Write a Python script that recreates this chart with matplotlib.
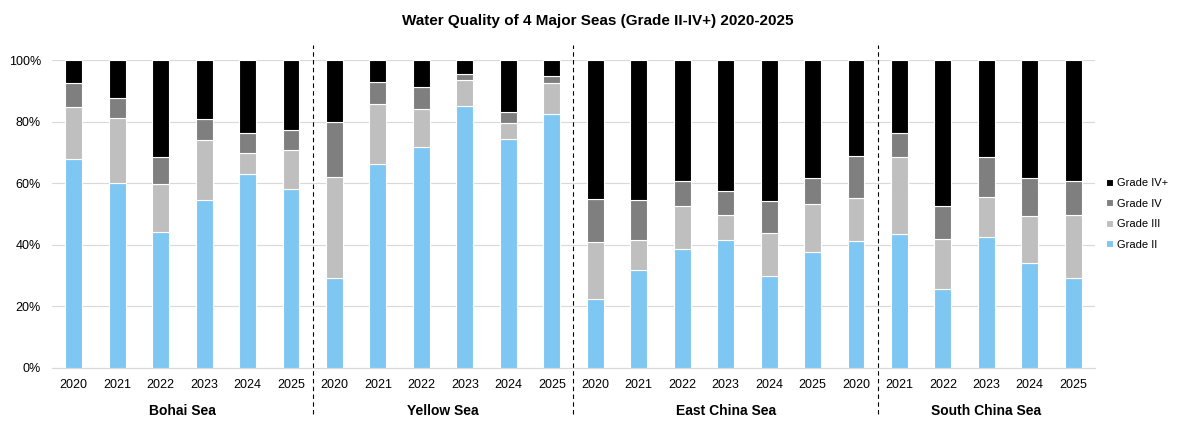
import matplotlib.pyplot as plt
import numpy as np

plt.rcParams['font.family'] = ['Liberation Sans', 'DejaVu Sans']

years = ['2020', '2021', '2022', '2023', '2024', '2025',
         '2020', '2021', '2022', '2023', '2024', '2025',
         '2020', '2021', '2022', '2023', '2024', '2025', '2020',
         '2021', '2022', '2023', '2024', '2025']
seas = ['Bohai Sea', 'Yellow Sea', 'East China Sea', 'South China Sea']
sea_sizes = [6, 6, 7, 5]

# cumulative tops (%)
top_ii = [67.8, 60.0, 44.1, 54.5, 62.9, 58.1,
          29.2, 66.2, 71.7, 85.0, 74.4, 82.4,
          22.4, 31.8, 38.6, 41.5, 29.8, 37.7, 41.2,
          43.5, 25.7, 42.6, 34.1, 29.2]
top_iii = [84.9, 81.1, 59.7, 74.1, 69.9, 70.7,
           61.9, 85.6, 84.0, 93.4, 79.5, 92.4,
           40.9, 41.5, 52.5, 49.6, 43.8, 53.2, 55.1,
           68.4, 41.8, 55.5, 49.4, 49.6]
top_iv = [92.4, 87.6, 68.4, 80.8, 76.2, 77.2,
          79.8, 93.0, 91.1, 95.4, 83.0, 94.8,
          55.0, 54.5, 60.6, 57.4, 54.2, 61.7, 68.8,
          76.2, 52.5, 68.4, 61.6, 60.6]

grade_ii = np.array(top_ii)
grade_iii = np.array(top_iii) - grade_ii
grade_iv = np.array(top_iv) - np.array(top_iii)
grade_ivp = 100 - np.array(top_iv)

fig = plt.figure(figsize=(11.81, 4.42), dpi=100)
ax = fig.add_axes([52 / 1181, 74 / 442, 1043 / 1181, 308 / 442])

x = np.arange(len(years))
w = 0.39
bottom = np.zeros(len(years))
series = [(grade_ii, '#7FC7F3', 'Grade II'),
          (grade_iii, '#BFBFBF', 'Grade III'),
          (grade_iv, '#7F7F7F', 'Grade IV'),
          (grade_ivp, '#000000', 'Grade IV+')]
for vals, col, name in series:
    ax.bar(x, vals / 100, w, bottom=bottom, color=col, edgecolor='white',
           linewidth=0.8, label=name, zorder=3)
    bottom += vals / 100

ax.set_xlim(-0.5, len(years) - 0.5)
ax.set_ylim(0, 1)
ax.set_yticks(np.arange(0, 1.01, 0.2))
ax.set_yticklabels([f'{int(v * 100)}%' for v in np.arange(0, 1.01, 0.2)], fontsize=9)
ax.set_xticks(x)
ax.set_xticklabels(years, fontsize=9)
ax.tick_params(length=0, pad=8)
ax.grid(axis='y', color='#D9D9D9', linewidth=0.8, zorder=0)
for s in ['top', 'right', 'left']:
    ax.spines[s].set_visible(False)
ax.spines['bottom'].set_color('#D9D9D9')

# group separators and names
start = 0
for i, (sea, n) in enumerate(zip(seas, sea_sizes)):
    center = start + (n - 1) / 2
    ax.text(center, -0.14, sea, transform=ax.get_xaxis_transform(),
            ha='center', va='center', fontsize=10, fontweight='bold')
    start += n
    if i < len(seas) - 1:
        ax.plot([start - 0.5, start - 0.5], [-0.15, 1.05],
                transform=ax.get_xaxis_transform(), color='black',
                linestyle=(0, (4, 3)), linewidth=0.8, clip_on=False)

handles, labels = ax.get_legend_handles_labels()
fig.legend(handles[::-1], labels[::-1], loc='center left',
           bbox_to_anchor=(1096 / 1181, 1 - 214 / 442), frameon=False,
           fontsize=8, handlelength=0.6, handleheight=0.6, handletextpad=0.4,
           labelspacing=0.95)

fig.text(598 / 1181, 1 - 21 / 442, 'Water Quality of 4 Major Seas (Grade II-IV+) 2020-2025',
         ha='center', va='center', fontsize=11, fontweight='bold')

fig.savefig('out.png', dpi=100)
